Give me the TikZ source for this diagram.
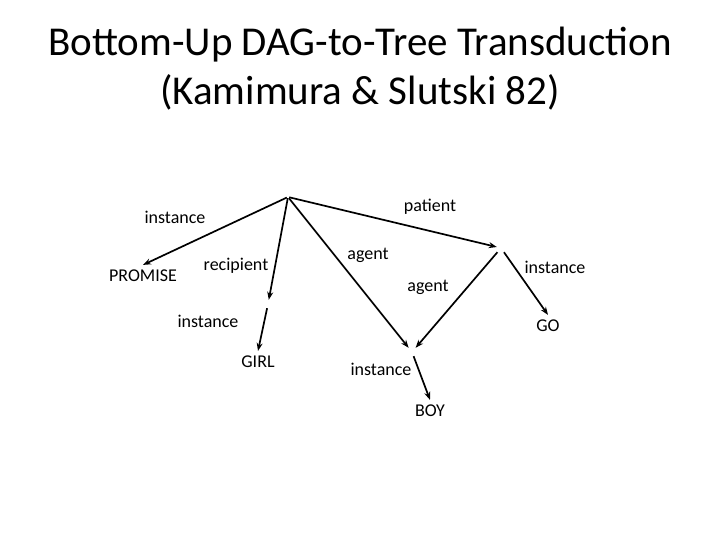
\documentclass[tikz,border=0pt]{standalone}
\usepackage{fontspec}
\setmainfont{Carlito}
\usetikzlibrary{arrows.meta}

\begin{document}
\begin{tikzpicture}[x=1pt,y=-1pt,font=\fontsize{18}{20}\selectfont,
  rel/.style={line width=1.7pt,-{Stealth[length=8pt,width=6pt]}},
  pt/.style={inner sep=4pt},
  word/.style={inner sep=5pt}]
\useasboundingbox (0,0) rectangle (720,540);
\node[font=\fontsize{41}{47}\selectfont] (title1) at (360,45) {Bottom-Up DAG-to-Tree Transduction};
\node[font=\fontsize{41}{47}\selectfont] (title2) at (360,92) {(Kamimura \& Slutski 82)};
% graph points
\node[pt,inner sep=1pt] (root) at (288,197) {};
\node[pt] (girlpt) at (268,304) {};
\node[pt] (patpt) at (501,248) {};
\node[pt] (boypt) at (412,352) {};
\node[word] (promise) at (143,276) {PROMISE};
\node[word] (girl) at (258,362) {GIRL};
\node[word] (boy) at (430,411) {BOY};
\node[word] (go) at (548,326) {GO};
% edges
\draw[rel] (root) -- (promise.north);
\draw[rel] (root) -- (girlpt);
\draw[rel] (root) -- (patpt);
\draw[rel] (root) -- (boypt);
\draw[rel] (girlpt) -- (girl.north);
\draw[rel] (patpt) -- (boypt);
\draw[rel] (patpt) -- (go.north);
\draw[rel] (boypt) -- (boy.north);
% edge labels
\node (l1) at (175,217) {instance};
\node (l2) at (236,266) {recipient};
\node (l3) at (208,321) {instance};
\node (l4) at (430,207) {patient};
\node (l5) at (368,255) {agent};
\node (l6) at (428,287) {agent};
\node (l7) at (555,267) {instance};
\node (l8) at (381,369) {instance};
\end{tikzpicture}
\end{document}
